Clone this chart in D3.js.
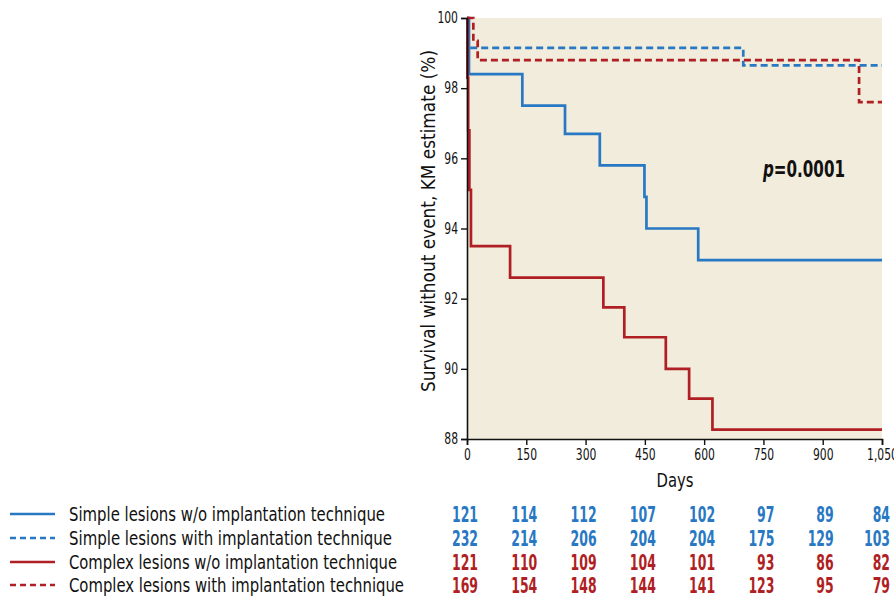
<!DOCTYPE html>
<html><head><meta charset="utf-8">
<script src="https://cdn.jsdelivr.net/npm/d3@7"></script>
<style>
html,body{margin:0;padding:0;background:#fff;}
svg{display:block;}
text{font-family:"Liberation Sans Narrow","DejaVu Sans Condensed","Roboto",sans-serif;}
</style></head><body>
<svg id="chart" width="894" height="596"></svg>
<script>
// ---- data ----
const xTicks = [0, 150, 300, 450, 600, 750, 900, 1050];
const yTicks = [88, 90, 92, 94, 96, 98, 100];
const seriesNames = [
  "Simple lesions w/o implantation technique",
  "Simple lesions with implantation technique",
  "Complex lesions w/o implantation technique",
  "Complex lesions with implantation technique"
];
const simpleWoDays = [0, 5, 140, 248, 336, 449, 454, 585, 1050];
const simpleWoSurv = [100, 98.4, 97.5, 96.7, 95.8, 94.9, 94.0, 93.1, 93.1];
const simpleWithDays = [0, 3, 699, 1050];
const simpleWithSurv = [100, 99.15, 98.65, 98.65];
const complexWoDays = [0, 1, 3, 6, 10, 109, 345, 398, 503, 562, 621, 1050];
const complexWoSurv = [100, 98.3, 96.8, 95.1, 93.5, 92.6, 91.75, 90.9, 90.0, 89.15, 88.27, 88.27];
const complexWithDays = [0, 16, 27, 992, 1050];
const complexWithSurv = [100, 99.35, 98.8, 97.6, 97.6];
const riskSimpleWo = [121, 114, 112, 107, 102, 97, 89, 84];
const riskSimpleWith = [232, 214, 206, 204, 204, 175, 129, 103];
const riskComplexWo = [121, 110, 109, 104, 101, 93, 86, 82];
const riskComplexWith = [169, 154, 148, 144, 141, 123, 95, 79];

const blue = "#2878c3", red = "#b01f24";
const series = [
  {name: seriesNames[0], days: simpleWoDays, surv: simpleWoSurv, color: blue, dash: null, risk: riskSimpleWo},
  {name: seriesNames[1], days: simpleWithDays, surv: simpleWithSurv, color: blue, dash: "7,4", risk: riskSimpleWith},
  {name: seriesNames[2], days: complexWoDays, surv: complexWoSurv, color: red, dash: null, risk: riskComplexWo},
  {name: seriesNames[3], days: complexWithDays, surv: complexWithSurv, color: red, dash: "7,4", risk: riskComplexWith}
];

// condense a text horizontally (no narrow font is installed)
function squeeze(sel, f) {
  sel.each(function() {
    const w = this.getComputedTextLength();
    d3.select(this).attr("textLength", w * f).attr("lengthAdjust", "spacingAndGlyphs");
  });
}
function fitTo(sel, w) {
  sel.attr("textLength", w).attr("lengthAdjust", "spacingAndGlyphs");
}

const svg = d3.select("#chart");
const x = d3.scaleLinear().domain([0, 1050]).range([467, 882]);
const y = d3.scaleLinear().domain([88, 100]).range([439, 18]);

// background
svg.append("rect").attr("x", x(0)).attr("y", y(100))
  .attr("width", x(1050) - x(0)).attr("height", y(88) - y(100))
  .attr("fill", "#f1ecdb");

// curves
const line = d3.line().x(d => x(d[0])).y(d => y(d[1])).curve(d3.curveStepAfter);
series.forEach(s => {
  const pts = s.days.map((d, i) => [d, s.surv[i]]);
  svg.append("path").attr("d", line(pts)).attr("fill", "none")
    .attr("stroke", s.color).attr("stroke-width", 2.7)
    .attr("stroke-dasharray", s.dash);
});

// axes
const yAxis = svg.append("g").attr("transform", `translate(${x(0)},0)`)
  .call(d3.axisLeft(y).tickValues(yTicks).tickSize(6).tickPadding(3));
const xAxis = svg.append("g").attr("transform", `translate(0,${y(88)})`)
  .call(d3.axisBottom(x).tickValues(xTicks).tickSize(6).tickPadding(4).tickFormat(d3.format(",")));
[yAxis, xAxis].forEach(g => {
  g.select(".domain").attr("stroke", "#111").attr("stroke-width", 1.6);
  g.selectAll(".tick line").attr("stroke", "#111").attr("stroke-width", 1.4);
  const t = g.selectAll("text").attr("font-size", 15).attr("fill", "#111")
    .style("font-family", '"Liberation Sans Narrow","DejaVu Sans Condensed",sans-serif');
  squeeze(t, 0.8);
});

// axis titles
const yt = svg.append("text").attr("transform", `translate(435,221) rotate(-90)`)
  .attr("text-anchor", "middle").attr("font-size", 20).attr("fill", "#111")
  .text("Survival without event, KM estimate (%)");
fitTo(yt, 342);
const xt = svg.append("text").attr("x", 675).attr("y", 487).attr("text-anchor", "middle")
  .attr("font-size", 19).attr("fill", "#111").text("Days");
fitTo(xt, 37);

// p value
const pt = svg.append("text").attr("x", 763).attr("y", 177).attr("font-size", 23)
  .attr("font-weight", "bold").attr("fill", "#111");
pt.append("tspan").attr("font-style", "italic").text("p");
pt.append("tspan").text("=0.0001");
fitTo(pt, 82);

// legend + risk table
const rowY = [514, 538, 562, 585];
const legendW = [316, 323, 328, 335];
series.forEach((s, i) => {
  svg.append("line").attr("x1", 10).attr("x2", 55).attr("y1", rowY[i]).attr("y2", rowY[i])
    .attr("stroke", s.color).attr("stroke-width", 2.4).attr("stroke-dasharray", s.dash ? "6,4" : null);
  const lt = svg.append("text").attr("x", 69).attr("y", rowY[i] + 7).attr("font-size", 20)
    .attr("fill", "#111").text(s.name);
  fitTo(lt, legendW[i]);
  s.risk.forEach((v, j) => {
    const rt = svg.append("text").attr("x", Math.min(x(xTicks[j]) + 11, 890)).attr("y", rowY[i] + 7.5)
      .attr("text-anchor", "end").attr("font-size", 21).attr("font-weight", "bold")
      .attr("fill", s.color).text(v);
    squeeze(rt, 0.66);
  });
});
</script>
</body></html>
